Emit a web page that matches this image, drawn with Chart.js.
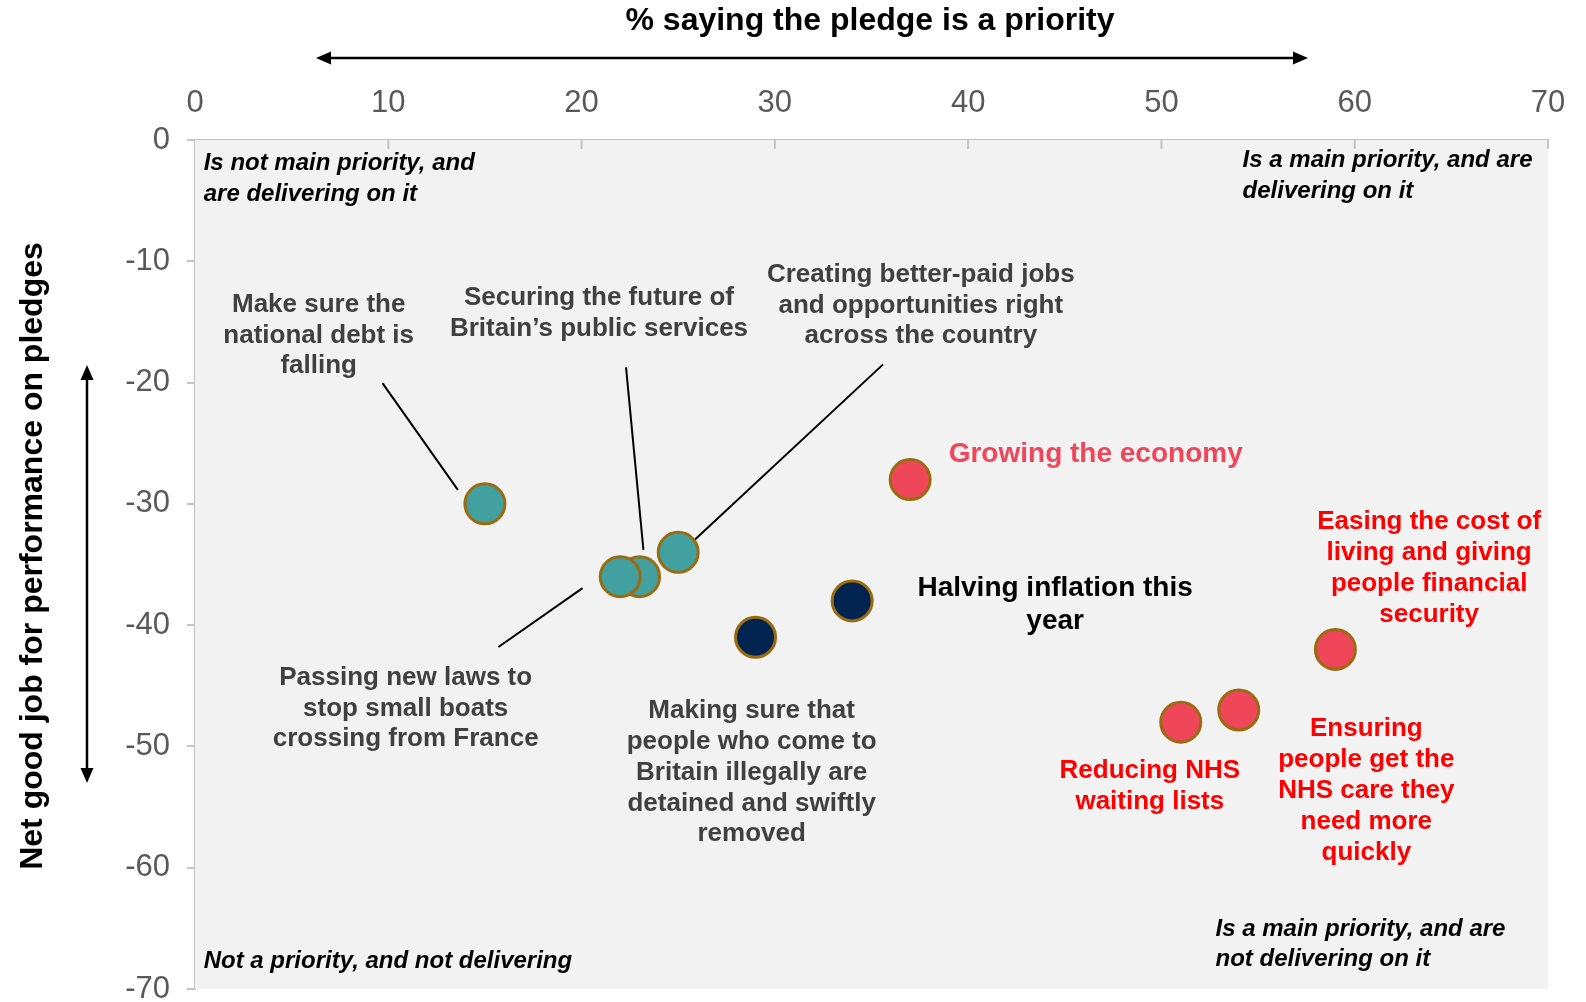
<!DOCTYPE html>
<html>
<head>
<meta charset="utf-8">
<script src="https://cdn.jsdelivr.net/npm/chart.js@4.4.1/dist/chart.umd.min.js"></script>
<style>
  html, body { margin: 0; padding: 0; background: #ffffff; overflow: hidden; }
  #wrap { width: 1586px; height: 1002px; }
  canvas { display: block; }
</style>
</head>
<body>
<div id="wrap"><canvas id="chart" width="1586" height="1002"></canvas></div>
<script>
// Données
const pledges = [
    'Make sure the national debt is falling',
    "Securing the future of Britain's public services",
    'Passing new laws to stop small boats crossing from France',
    'Creating better-paid jobs and opportunities right across the country',
    'Making sure that people who come to Britain illegally are detained and swiftly removed',
    'Halving inflation this year',
    'Growing the economy',
    'Reducing NHS waiting lists',
    'Ensuring people get the NHS care they need more quickly',
    'Easing the cost of living and giving people financial security'
];
const priorityPct = [15, 23, 22, 25, 29, 34, 37, 51, 54, 59];
const netGoodJob = [-30, -36, -36, -34, -41, -38, -28, -48, -47, -42];
const pledgeGroup = ['teal', 'teal', 'teal', 'teal', 'navy', 'navy', 'red', 'red', 'red', 'red'];
const xTicks = [0, 10, 20, 30, 40, 50, 60, 70];
const yTicks = [0, -10, -20, -30, -40, -50, -60, -70];

const groupColors = { teal: '#43a0a0', navy: '#00234f', red: '#f0465a' };
const FONT = '"Liberation Sans", Arial, sans-serif';
const PLOT_BOTTOM = 989;

// Étiquettes des points (position en unités des axes)
const pointLabels = [
    { lines: ['Make sure the', 'national debt is', 'falling'], x: 6.4, y: -13.6, color: '#404040', size: 26, lh: 30.5 },
    { lines: ['Securing the future of', 'Britain\u2019s public services'], x: 20.9, y: -13.05, color: '#404040', size: 26, lh: 30.5 },
    { lines: ['Creating better-paid jobs', 'and opportunities right', 'across the country'], x: 37.55, y: -11.15, color: '#404040', size: 26, lh: 30.5 },
    { lines: ['Passing new laws to', 'stop small boats', 'crossing from France'], x: 10.9, y: -44.35, color: '#404040', size: 26, lh: 30.5 },
    { lines: ['Making sure that', 'people who come to', 'Britain illegally are', 'detained and swiftly', 'removed'], x: 28.8, y: -47.1, color: '#404040', size: 26, lh: 30.7 },
    { lines: ['Halving inflation this', 'year'], x: 44.5, y: -37.0, color: '#000000', size: 28, lh: 33 },
    { lines: ['Growing the economy'], x: 46.6, y: -25.9, color: '#f0465a', size: 28, lh: 33 },
    { lines: ['Easing the cost of', 'living and giving', 'people financial', 'security'], x: 63.85, y: -31.45, color: '#ff0000', size: 26, lh: 31 },
    { lines: ['Ensuring', 'people get the', 'NHS care they', 'need more', 'quickly'], x: 60.6, y: -48.55, color: '#ff0000', size: 26, lh: 31 },
    { lines: ['Reducing NHS', 'waiting lists'], x: 49.4, y: -52.0, color: '#ff0000', size: 26, lh: 31 }
];

// Libellés des quadrants
const quadrantLabels = [
    { lines: ['Is not main priority, and', 'are delivering on it'], x: 0.45, y: -1.95 },
    { lines: ['Is a main priority, and are', 'delivering on it'], x: 54.2, y: -1.7 },
    { lines: ['Not a priority, and not delivering'], x: 0.45, y: -67.7 },
    { lines: ['Is a main priority, and are', 'not delivering on it'], x: 52.8, y: -65.05 }
];

// Traits de rappel
const leaderLines = [
    [9.7, -20.05, 13.6, -28.85],
    [22.3, -18.75, 23.2, -33.8],
    [35.6, -18.5, 25.8, -33.05],
    [15.7, -41.8, 20.05, -36.95]
];

function arrowHead(ctx, x, y, dir) {
    // dir : 'left', 'right', 'up', 'down'
    const L = 15, W = 6.5;
    ctx.beginPath();
    if (dir === 'left') { ctx.moveTo(x, y); ctx.lineTo(x + L, y - W); ctx.lineTo(x + L, y + W); }
    if (dir === 'right') { ctx.moveTo(x, y); ctx.lineTo(x - L, y - W); ctx.lineTo(x - L, y + W); }
    if (dir === 'up') { ctx.moveTo(x, y); ctx.lineTo(x - W, y + L); ctx.lineTo(x + W, y + L); }
    if (dir === 'down') { ctx.moveTo(x, y); ctx.lineTo(x - W, y - L); ctx.lineTo(x + W, y - L); }
    ctx.closePath();
    ctx.fill();
}

const decorPlugin = {
    id: 'decor',
    // la mise en page laisse la zone du graphique trop courte : on recale le bas de l'axe Y
    afterLayout(chart) {
        const y = chart.scales.y;
        const area = chart.chartArea;
        if (!y || typeof y.configure !== 'function') return;
        area.bottom = PLOT_BOTTOM;
        area.height = PLOT_BOTTOM - area.top;
        y.bottom = PLOT_BOTTOM;
        y.height = PLOT_BOTTOM - y.top;
        y.configure();
    },
    beforeDatasetsDraw(chart) {
        const { ctx, chartArea: a, scales } = chart;
        ctx.save();
        ctx.fillStyle = '#f2f2f2';
        ctx.fillRect(a.left, a.top, a.right - a.left, a.bottom - a.top);

        // Graduations de l'axe du haut, vers l'intérieur
        ctx.strokeStyle = '#c4c4c4';
        ctx.lineWidth = 2;
        xTicks.forEach(v => {
            if (v === 0) return;
            const px = scales.x.getPixelForValue(v);
            ctx.beginPath();
            ctx.moveTo(px, a.top);
            ctx.lineTo(px, a.top + 9);
            ctx.stroke();
        });

        // Traits de rappel
        ctx.strokeStyle = '#000000';
        ctx.lineWidth = 2;
        leaderLines.forEach(([x1, y1, x2, y2]) => {
            ctx.beginPath();
            ctx.moveTo(scales.x.getPixelForValue(x1), scales.y.getPixelForValue(y1));
            ctx.lineTo(scales.x.getPixelForValue(x2), scales.y.getPixelForValue(y2));
            ctx.stroke();
        });

        // Libellés des quadrants
        ctx.fillStyle = '#000000';
        ctx.font = `italic bold 24px ${FONT}`;
        ctx.textAlign = 'left';
        ctx.textBaseline = 'middle';
        quadrantLabels.forEach(q => {
            const px = scales.x.getPixelForValue(q.x);
            const py = scales.y.getPixelForValue(q.y);
            q.lines.forEach((line, i) => ctx.fillText(line, px, py + i * 30.5));
        });

        // Étiquettes des points
        ctx.textAlign = 'center';
        pointLabels.forEach(l => {
            const px = scales.x.getPixelForValue(l.x);
            const py = scales.y.getPixelForValue(l.y);
            ctx.fillStyle = l.color;
            ctx.font = `bold ${l.size}px ${FONT}`;
            l.lines.forEach((line, i) => ctx.fillText(line, px, py + i * l.lh));
        });
        ctx.restore();
    },
    afterDraw(chart) {
        const { ctx } = chart;
        ctx.save();
        ctx.fillStyle = '#000000';
        ctx.strokeStyle = '#000000';
        ctx.lineWidth = 2.5;

        // Titre de l'axe X et flèche
        ctx.font = `bold 32px ${FONT}`;
        ctx.textAlign = 'center';
        ctx.textBaseline = 'middle';
        ctx.fillText('% saying the pledge is a priority', 870, 21);
        ctx.beginPath();
        ctx.moveTo(325, 58);
        ctx.lineTo(1296, 58);
        ctx.stroke();
        arrowHead(ctx, 316, 58, 'left');
        arrowHead(ctx, 1308, 58, 'right');

        // Titre de l'axe Y et flèche
        ctx.save();
        ctx.translate(33, 556);
        ctx.rotate(-Math.PI / 2);
        ctx.fillText('Net good job for performance on pledges', 0, 0);
        ctx.restore();
        ctx.beginPath();
        ctx.moveTo(87, 374);
        ctx.lineTo(87, 774);
        ctx.stroke();
        arrowHead(ctx, 87, 365, 'up');
        arrowHead(ctx, 87, 783, 'down');
        ctx.restore();
    }
};

const ctx = document.getElementById('chart').getContext('2d');
new Chart(ctx, {
    type: 'scatter',
    data: {
        datasets: [{
            label: 'Pledges',
            data: priorityPct.map((x, i) => ({ x: x, y: netGoodJob[i], name: pledges[i] })),
            backgroundColor: pledgeGroup.map(g => groupColors[g]),
            borderColor: '#9a6c12',
            borderWidth: 3,
            pointRadius: 20,
            pointHoverRadius: 20
        }]
    },
    plugins: [decorPlugin],
    options: {
        responsive: false,
        animation: false,
        layout: { padding: { left: 0, top: 0, right: 38, bottom: 13 } },
        plugins: {
            legend: { display: false },
            tooltip: { enabled: false }
        },
        scales: {
            x: {
                type: 'linear',
                position: 'top',
                min: 0,
                max: 70,
                afterBuildTicks: scale => { scale.ticks = xTicks.map(v => ({ value: v })); },
                afterFit: scale => { scale.height = 140; },
                ticks: { font: { family: FONT, size: 31 }, color: '#595959', padding: 18 },
                grid: { drawOnChartArea: false, drawTicks: false },
                border: { display: true, color: '#c4c4c4', width: 2 }
            },
            y: {
                type: 'linear',
                min: -70,
                max: 0,
                afterBuildTicks: scale => { scale.ticks = yTicks.map(v => ({ value: v })); },
                afterFit: scale => { scale.width = 195; },
                ticks: { font: { family: FONT, size: 31 }, color: '#595959', padding: 17 },
                grid: { drawOnChartArea: false, drawTicks: true, tickLength: 8, color: '#c4c4c4', lineWidth: 2 },
                border: { display: true, color: '#c4c4c4', width: 2 }
            }
        }
    }
});
</script>
</body>
</html>
